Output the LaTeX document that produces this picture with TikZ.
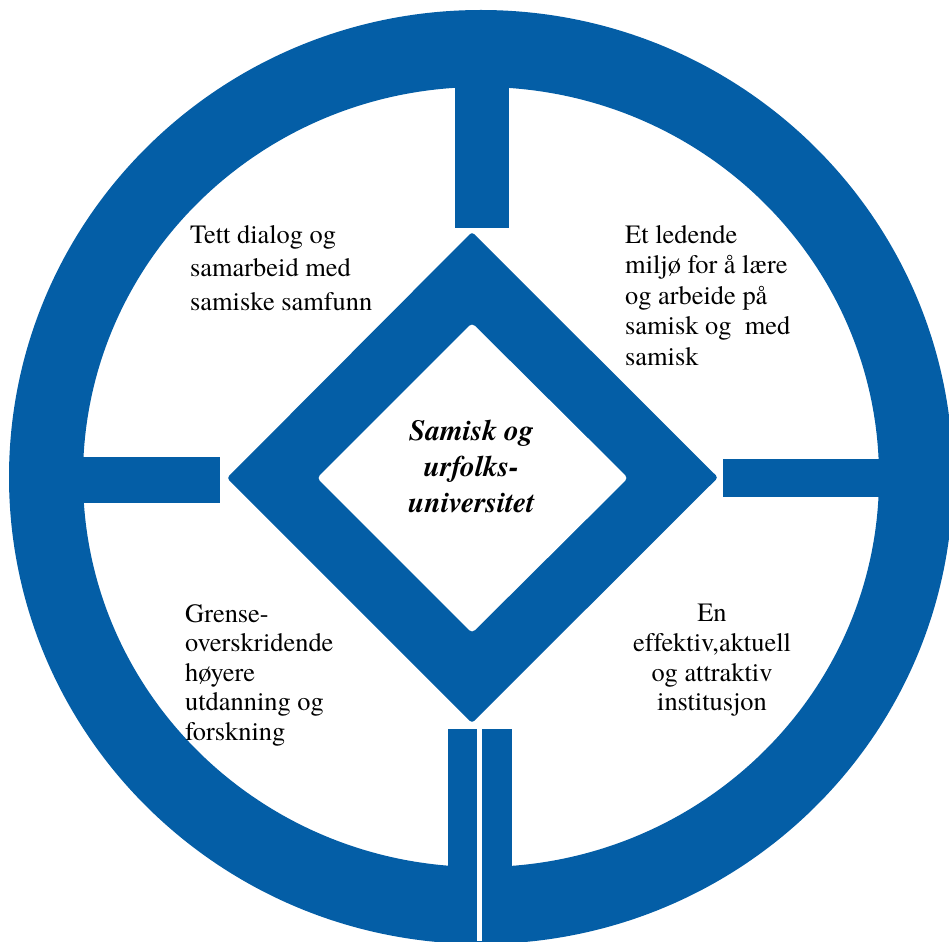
\documentclass[tikz,border=0pt]{standalone}
\usepackage{fontspec}
\setmainfont{texgyretermes}[Extension=.otf, UprightFont=*-regular, BoldFont=*-bold, ItalicFont=*-italic, BoldItalicFont=*-bolditalic, Ligatures=NoCommon]
\definecolor{uitblue}{RGB}{4,94,166}
\begin{document}
\begin{tikzpicture}[x=1pt,y=-1pt,
  lbl/.style={inner sep=0pt, text=black},
  blue fill/.style={fill=uitblue}]
\useasboundingbox (0,0) rectangle (949,941);
\begin{scope}
\clip (0,0) rectangle (949,941);
% outer ring
\fill[blue fill, even odd rule] (481,477) ellipse [x radius=472, y radius=467]
                               (481,477) ellipse [x radius=398, y radius=390];
% spokes
\fill[blue fill] (455,70) rectangle (509,228);
\fill[blue fill] (70,457) rectangle (220,503);
\fill[blue fill] (723,459) rectangle (890,497);
\fill[blue fill] (448,729) rectangle (477,900);
\fill[blue fill] (482,729) rectangle (512,900);
\fill[white] (477,729) rectangle (482,941);
% diamond
\fill[blue fill, rounded corners=3pt] (472,232) -- (718,477.5) -- (472,723) -- (227,478) -- cycle;
\fill[white, rounded corners=4pt] (472,323) -- (628,478) -- (472,633) -- (317,478) -- cycle;
\end{scope}
% texts
\node[lbl, anchor=north, align=center, font=\fontsize{29.3}{36}\selectfont\bfseries\itshape] (centre) at (471.5,420) {Samisk og\\urfolks-\\universitet};
\node[lbl, anchor=north west, align=left, font=\fontsize{26.4}{33.5}\selectfont] (tl) at (190,225) {Tett dialog og\\samarbeid med\\samiske samfunn};
\node[lbl, anchor=north west, align=left, font=\fontsize{26.4}{30.5}\selectfont] (tr) at (625,225) {Et ledende\\miljø for å lære\\og arbeide på\\samisk og\ \ med\\samisk};
\node[lbl, anchor=north west, align=left, font=\fontsize{26.4}{29.6}\selectfont] (bl) at (185,604) {Grense-\\overskridende\\høyere\\utdanning og\\forskning};
\node[lbl, anchor=north, align=center, font=\fontsize{26.4}{29.7}\selectfont] (br) at (712,604) {En\\effektiv,aktuell\\og attraktiv\\institusjon};
\end{tikzpicture}
\end{document}
